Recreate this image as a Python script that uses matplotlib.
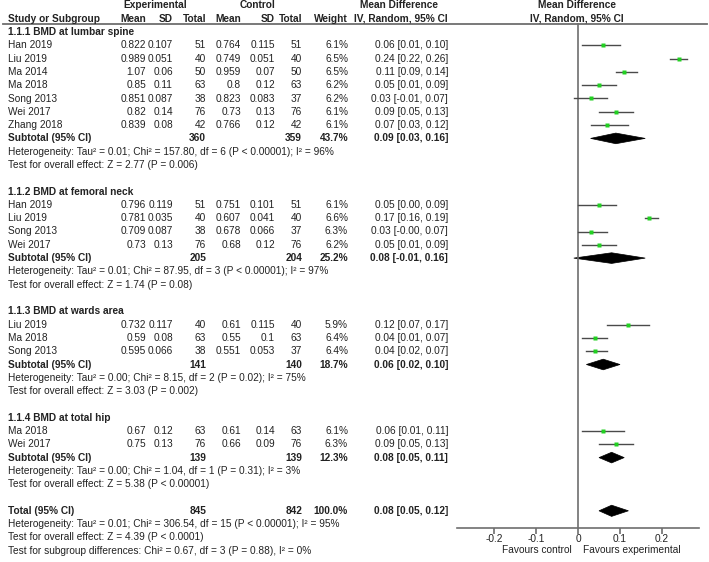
import matplotlib
matplotlib.use('Agg')
import matplotlib.pyplot as plt
from matplotlib.patches import Polygon

plt.rcParams['font.family'] = ['Liberation Sans', 'DejaVu Sans']

# study rows: name, exp mean, exp sd, exp n, ctl mean, ctl sd, ctl n, weight %, md, lo, hi
lumbar = [
    ("Han 2019", 0.822, 0.107, 51, 0.764, 0.115, 51, 6.1, 0.06, 0.01, 0.10),
    ("Liu 2019", 0.989, 0.051, 40, 0.749, 0.051, 40, 6.5, 0.24, 0.22, 0.26),
    ("Ma 2014", 1.07, 0.06, 50, 0.959, 0.07, 50, 6.5, 0.11, 0.09, 0.14),
    ("Ma 2018", 0.85, 0.11, 63, 0.8, 0.12, 63, 6.2, 0.05, 0.01, 0.09),
    ("Song 2013", 0.851, 0.087, 38, 0.823, 0.083, 37, 6.2, 0.03, -0.01, 0.07),
    ("Wei 2017", 0.82, 0.14, 76, 0.73, 0.13, 76, 6.1, 0.09, 0.05, 0.13),
    ("Zhang 2018", 0.839, 0.08, 42, 0.766, 0.12, 42, 6.1, 0.07, 0.03, 0.12),
]
femoral = [
    ("Han 2019", 0.796, 0.119, 51, 0.751, 0.101, 51, 6.1, 0.05, 0.00, 0.09),
    ("Liu 2019", 0.781, 0.035, 40, 0.607, 0.041, 40, 6.6, 0.17, 0.16, 0.19),
    ("Song 2013", 0.709, 0.087, 38, 0.678, 0.066, 37, 6.3, 0.03, -0.00, 0.07),
    ("Wei 2017", 0.73, 0.13, 76, 0.68, 0.12, 76, 6.2, 0.05, 0.01, 0.09),
]
wards = [
    ("Liu 2019", 0.732, 0.117, 40, 0.61, 0.115, 40, 5.9, 0.12, 0.07, 0.17),
    ("Ma 2018", 0.59, 0.08, 63, 0.55, 0.1, 63, 6.4, 0.04, 0.01, 0.07),
    ("Song 2013", 0.595, 0.066, 38, 0.551, 0.053, 37, 6.4, 0.04, 0.02, 0.07),
]
hip = [
    ("Ma 2018", 0.67, 0.12, 63, 0.61, 0.14, 63, 6.1, 0.06, 0.01, 0.11),
    ("Wei 2017", 0.75, 0.13, 76, 0.66, 0.09, 76, 6.3, 0.09, 0.05, 0.13),
]

group_titles = ["1.1.1 BMD at lumbar spine", "1.1.2 BMD at femoral neck",
                "1.1.3 BMD at wards area", "1.1.4 BMD at total hip"]
group_studies = [lumbar, femoral, wards, hip]
# subtotal: exp n, ctl n, weight, md, lo, hi
subtotals = [
    (360, 359, 43.7, 0.09, 0.03, 0.16),
    (205, 204, 25.2, 0.08, -0.01, 0.16),
    (141, 140, 18.7, 0.06, 0.02, 0.10),
    (139, 139, 12.3, 0.08, 0.05, 0.11),
]
heterogeneity = [
    "Heterogeneity: Tau\u00b2 = 0.01; Chi\u00b2 = 157.80, df = 6 (P < 0.00001); I\u00b2 = 96%",
    "Heterogeneity: Tau\u00b2 = 0.01; Chi\u00b2 = 87.95, df = 3 (P < 0.00001); I\u00b2 = 97%",
    "Heterogeneity: Tau\u00b2 = 0.00; Chi\u00b2 = 8.15, df = 2 (P = 0.02); I\u00b2 = 75%",
    "Heterogeneity: Tau\u00b2 = 0.00; Chi\u00b2 = 1.04, df = 1 (P = 0.31); I\u00b2 = 3%",
]
overall = [
    "Test for overall effect: Z = 2.77 (P = 0.006)",
    "Test for overall effect: Z = 1.74 (P = 0.08)",
    "Test for overall effect: Z = 3.03 (P = 0.002)",
    "Test for overall effect: Z = 5.38 (P < 0.00001)",
]
total = (845, 842, 100.0, 0.08, 0.05, 0.12)
total_notes = [
    "Heterogeneity: Tau\u00b2 = 0.01; Chi\u00b2 = 306.54, df = 15 (P < 0.00001); I\u00b2 = 95%",
    "Test for overall effect: Z = 4.39 (P < 0.0001)",
    "Test for subgroup differences: Chi\u00b2 = 0.67, df = 3 (P = 0.88), I\u00b2 = 0%",
]
xticks = [-0.2, -0.1, 0, 0.1, 0.2]
xticklabels = ["-0.2", "-0.1", "0", "0.1", "0.2"]

FS = 7.3
TXT = '#222222'
GRAY = '#6e6e6e'

def ypix(r):
    return 5.4 + 13.3 * r

def rowof(p):
    return (p - 5.4) / 13.3

fig = plt.figure(figsize=(7.09, 5.62), dpi=100)
ax = fig.add_axes([0, 0, 1, 1])
ax.set_xlim(0, 709)
ax.set_ylim(562, 0)
ax.axis('off')

fa = fig.add_axes([457/709, (562-528)/562, (699-457)/709, (528-23)/562])
fa.set_facecolor('none')
fa.set_xlim(-0.288, 0.288)
fa.set_ylim(rowof(528), rowof(23))
for s in ['top', 'left', 'right']:
    fa.spines[s].set_visible(False)
fa.spines['bottom'].set_color(GRAY)
fa.spines['bottom'].set_linewidth(1.2)
fa.set_yticks([])
fa.set_xticks(xticks)
fa.set_xticklabels(xticklabels)
fa.tick_params(axis='x', direction='out', length=4, width=1.2, color=GRAY,
               labelsize=FS, labelcolor=TXT, pad=0.5)
fa.axvline(0, color=GRAY, lw=1.2)

def txt(x, r, s, ha='right', bold=False):
    ax.text(x, ypix(r), s, ha=ha, va='center', fontsize=FS, color=TXT,
            fontweight='bold' if bold else 'normal')

# column positions (right edges)
cx = dict(em=146, esd=173, en=206, cm=241, csd=275, cn=302, w=348, ci=448)

# header
txt(155, 0, "Experimental", ha='center', bold=True)
txt(257, 0, "Control", ha='center', bold=True)
txt(399, 0, "Mean Difference", ha='center', bold=True)
txt(577, 0, "Mean Difference", ha='center', bold=True)
txt(8, 1, "Study or Subgroup", ha='left', bold=True)
for key, lab in [('em', 'Mean'), ('esd', 'SD'), ('en', 'Total'), ('cm', 'Mean'),
                 ('csd', 'SD'), ('cn', 'Total'), ('w', 'Weight'), ('ci', 'IV, Random, 95% CI')]:
    txt(cx[key], 1, lab, bold=True)
txt(577, 1, "IV, Random, 95% CI", ha='center', bold=True)
ax.plot([3, 707], [23.5, 23.5], color=GRAY, lw=1.3)

def ci_text(md, lo, hi):
    return "%.2f [%.2f, %.2f]" % (md, lo, hi)

def diamond(r, md, lo, hi, h=0.4):
    fa.add_patch(Polygon([(lo, r), (md, r - h), (hi, r), (md, r + h)],
                         closed=True, fc='black', ec='black', lw=0.5))

r = 2
for g in range(len(group_titles)):
    txt(8, r, group_titles[g], ha='left', bold=True)
    r += 1
    for st in group_studies[g]:
        name, em, esd, en, cm, csd, cn, w, md, lo, hi = st
        txt(8, r, name, ha='left')
        txt(cx['em'], r, repr(em))
        txt(cx['esd'], r, repr(esd))
        txt(cx['en'], r, str(en))
        txt(cx['cm'], r, repr(cm))
        txt(cx['csd'], r, repr(csd))
        txt(cx['cn'], r, str(cn))
        txt(cx['w'], r, "%.1f%%" % w)
        txt(cx['ci'], r, ci_text(md, lo, hi))
        fa.plot([lo, hi], [r, r], color='#4a4a4a', lw=1.0)
        fa.plot(md, r, 's', color='#22d022', ms=2.4, mec='none')
        r += 1
    en, cn, w, md, lo, hi = subtotals[g]
    txt(8, r, "Subtotal (95% CI)", ha='left', bold=True)
    txt(cx['en'], r, str(en), bold=True)
    txt(cx['cn'], r, str(cn), bold=True)
    txt(cx['w'], r, "%.1f%%" % w, bold=True)
    txt(cx['ci'], r, ci_text(md, lo, hi), bold=True)
    diamond(r, md, lo, hi)
    r += 1
    txt(8, r, heterogeneity[g], ha='left')
    r += 1
    txt(8, r, overall[g], ha='left')
    r += 2

en, cn, w, md, lo, hi = total
txt(8, r, "Total (95% CI)", ha='left', bold=True)
txt(cx['en'], r, str(en), bold=True)
txt(cx['cn'], r, str(cn), bold=True)
txt(cx['w'], r, "%.1f%%" % w, bold=True)
txt(cx['ci'], r, ci_text(md, lo, hi), bold=True)
diamond(r, md, lo, hi, h=0.42)
for note in total_notes:
    r += 1
    txt(8, r, note, ha='left')

ax.text(572, 550, "Favours control", ha='right', va='center', fontsize=FS, color=TXT)
ax.text(583, 550, "Favours experimental", ha='left', va='center', fontsize=FS, color=TXT)

fig.savefig('out.png', dpi=100)
